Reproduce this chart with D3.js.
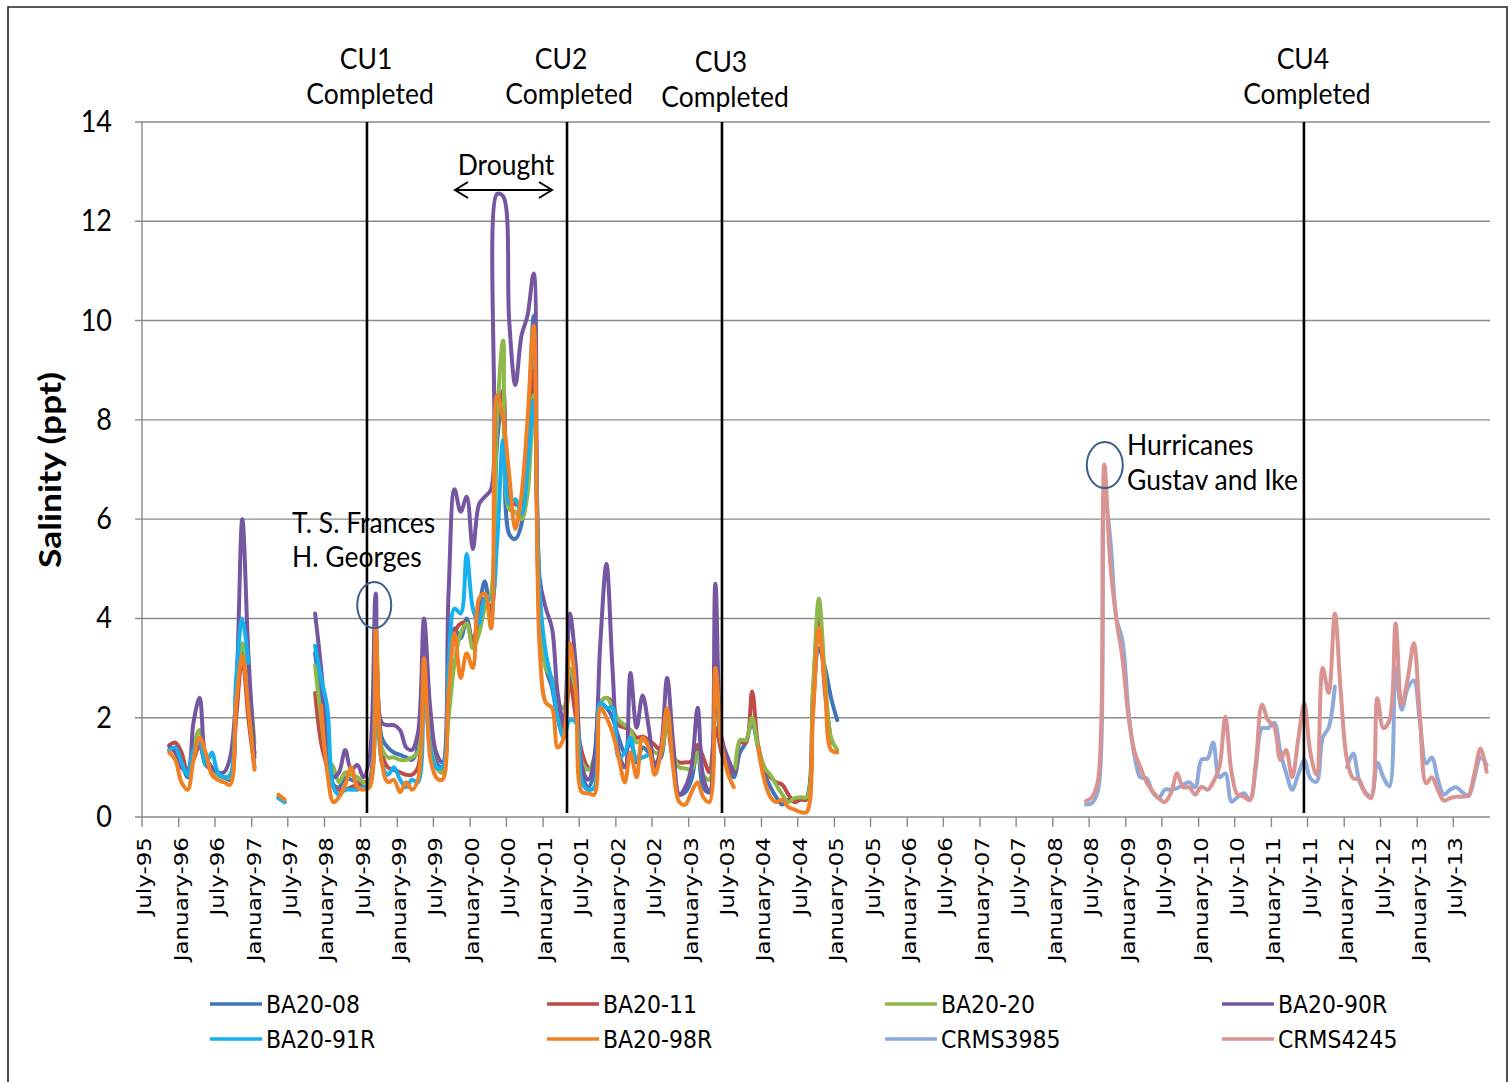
<!DOCTYPE html>
<html><head><meta charset="utf-8">
<script src="https://cdn.jsdelivr.net/npm/d3@7"></script>
<style>body{margin:0;background:#fff}svg{display:block}</style>
</head><body><svg id="c" width="1510" height="1082"></svg>
<script>
// ---------- DATA ----------
// Monthly samples (plotted mid-month). BA stations: Nov-1995 .. Jan-2005; CRMS stations: Jun-2008 .. Dec-2013
const baPeriod = ["1995-11", "2005-01"];
const crmsPeriod = ["2008-06", "2013-12"];
const seriesNames = ["BA20-08","BA20-11","BA20-20","BA20-90R","BA20-91R","BA20-98R","CRMS3985","CRMS4245"];

const ba2008 = [1.35,1.4,1.1,0.8,1.2,1.45,1.1,1.0,0.85,0.8,0.75,2.2,3.3,2.2,1.3,
 null,null,null,0.38,0.3,null,null,null,null,
 3.3,2.3,1.3,0.65,0.6,0.8,0.75,0.7,0.6,0.7,3.6,1.6,1.4,1.3,1.25,1.2,1.15,1.4,3.5,1.6,1.1,1.0,
 2.5,3.8,3.6,4.0,3.5,4.2,4.75,4.0,7.5,8.5,5.7,5.6,5.9,7.5,10.1,4.0,3.0,2.6,2.0,1.6,
 2.9,2.2,0.9,0.6,0.9,2.3,2.2,2.0,1.6,1.3,1.5,1.1,1.4,1.3,1.1,1.2,2.1,1.1,0.45,0.5,
 0.75,1.4,0.6,0.5,3.2,1.3,1.0,0.8,1.3,1.5,1.9,1.4,0.9,0.6,0.4,0.25,0.35,0.32,0.35,0.4,2.2,3.4,3.0,2.4,1.95];
const ba2011 = [1.45,1.5,1.3,0.9,1.15,1.45,1.05,0.95,0.85,0.8,0.8,2.0,3.2,2.0,1.0,
 null,null,null,null,null,null,null,null,null,
 2.5,1.5,1.0,0.6,0.55,0.55,0.6,0.65,0.7,0.75,3.3,1.3,1.0,0.95,0.9,0.85,0.85,1.0,3.0,1.5,1.0,0.9,
 2.5,3.7,3.9,3.9,3.5,4.0,4.4,4.2,8.0,8.6,6.4,6.3,6.3,7.5,9.0,4.2,3.2,2.7,2.2,1.8,
 2.7,2.0,1.3,1.0,1.0,2.3,2.4,2.3,1.85,1.8,1.75,1.6,1.62,1.55,1.45,1.35,2.0,1.2,1.1,1.1,
 1.12,1.45,1.2,0.9,1.8,1.3,1.0,0.9,1.5,1.5,2.53,1.45,1.0,0.8,0.7,0.65,0.45,0.3,0.35,0.35,2.5,4.0,2.5,1.5,null];
const ba2020 = [1.35,1.35,1.0,0.9,1.45,1.75,1.2,1.0,0.85,0.8,0.8,2.5,3.5,2.8,1.5,
 null,null,null,null,null,null,null,null,null,
 3.05,2.0,1.2,1.0,0.7,0.9,0.85,0.8,0.7,0.7,3.0,1.4,1.2,1.2,1.15,1.15,1.2,1.3,2.8,1.5,1.0,0.9,
 2.0,3.1,3.7,3.9,3.4,3.7,4.2,4.5,8.0,9.6,6.2,6.15,6.0,6.5,8.5,4.5,3.0,2.8,2.3,2.2,
 3.0,2.5,1.1,0.95,1.2,2.3,2.4,2.2,1.95,1.85,1.75,1.5,1.55,1.45,1.3,1.3,2.0,1.3,1.0,0.98,
 0.95,1.3,0.85,0.75,3.3,1.5,1.2,0.95,1.55,1.55,2.0,1.4,1.0,0.85,0.65,0.45,0.3,0.38,0.4,0.4,2.5,4.4,2.8,1.6,1.35];
const ba2090R = [1.42,1.3,1.0,0.95,1.9,2.4,1.2,1.0,0.9,0.9,1.2,2.5,6.0,3.3,1.2,
 null,null,null,null,null,null,null,null,null,
 4.1,3.0,1.6,0.8,0.9,1.35,0.95,1.05,0.8,1.2,4.5,1.9,1.85,1.85,1.75,1.4,1.35,1.7,4.0,2.2,1.3,1.1,
 4.5,6.6,6.15,6.45,5.4,6.3,6.45,6.6,12.55,12.5,10.0,8.7,9.7,10.1,10.95,4.8,4.2,3.8,2.5,1.9,
 4.1,3.0,1.0,0.75,1.2,3.5,5.1,3.0,1.3,1.0,2.9,1.8,2.45,1.8,1.0,1.4,2.8,1.5,0.45,0.6,
 1.0,2.2,0.8,0.5,4.7,1.6,1.2,0.9,null,null,null,null,null,null,null,null,null,null,null,null,null,null,null,null,null];
const ba2091R = [1.35,1.4,1.1,0.85,1.35,1.5,1.05,1.3,0.9,0.8,0.85,2.8,4.0,3.1,null,
 null,null,null,0.4,0.3,null,null,null,null,
 3.45,2.8,2.2,0.6,0.45,0.55,0.55,0.55,0.6,0.65,3.0,1.1,0.85,1.0,0.75,0.6,0.75,0.7,2.8,1.4,1.0,1.0,
 3.0,4.2,4.1,5.3,4.2,3.9,4.4,4.4,5.5,7.6,6.3,6.4,6.1,7.0,8.4,4.5,3.3,2.7,2.0,1.6,
 1.95,1.9,0.7,0.55,0.6,2.3,2.2,2.2,1.2,1.3,1.6,1.15,1.2,1.25,null,null,null,null,null,null,
 null,null,null,null,null,null,null,null,null,null,null,null,null,null,null,null,null,null,null,null,null,null,null,null,null];
const ba2098R = [1.3,1.15,0.7,0.55,1.15,1.6,1.3,0.85,0.75,0.7,0.65,2.3,3.25,2.2,0.95,
 null,null,null,0.45,0.35,null,null,null,null,
 null,2.25,0.9,0.3,0.4,0.65,1.0,0.6,0.55,0.6,3.8,1.1,0.7,0.75,0.5,0.7,0.55,0.75,3.2,1.2,0.8,0.75,
 2.5,3.7,2.8,3.3,3.0,4.4,4.5,3.8,8.5,8.0,6.9,5.8,6.5,8.0,9.9,3.4,2.3,2.2,1.4,1.6,
 3.5,2.5,0.5,0.48,0.45,2.2,2.0,1.7,1.2,0.7,1.3,0.8,1.6,1.4,0.85,1.3,2.2,1.0,0.3,0.25,
 0.5,0.7,0.4,0.3,3.0,1.5,0.9,0.6,null,null,null,1.4,0.75,0.4,0.3,0.35,0.2,0.15,0.1,0.1,2.0,3.8,2.6,1.35,1.3];
const crms3985 = [0.25,0.28,0.55,6.5,5.6,4.0,3.55,2.1,1.2,0.8,
 0.78,0.5,0.38,0.55,0.55,0.58,0.65,0.7,0.6,1.15,
 1.18,1.5,0.8,0.88,0.31,0.4,0.48,0.35,1.0,1.79,
 1.79,1.9,1.3,0.9,0.55,0.85,1.15,0.78,0.71,1.6,
 1.8,2.63,null,1.0,1.28,0.75,0.5,0.42,1.1,0.8,
 0.62,3.0,2.16,2.6,2.75,1.9,1.08,1.2,0.75,0.45,
 0.55,0.6,0.5,0.42,0.8,1.2,1.05];
const crms4245 = [0.32,0.4,0.75,7.1,5.1,3.97,3.2,2.0,1.3,1.0,
 0.7,0.52,0.38,0.3,0.48,0.88,0.6,0.6,0.45,0.61,
 0.55,0.7,1.0,2.02,0.9,0.45,0.41,0.34,1.1,2.26,
 1.95,1.82,1.15,1.35,0.8,1.55,2.29,1.3,0.85,3.0,
 2.5,4.1,2.5,1.15,0.78,0.75,0.48,0.38,2.39,1.79,
 1.95,3.9,2.26,2.8,3.5,2.0,0.68,0.8,0.54,0.33,
 0.38,0.41,0.41,0.44,0.88,1.38,0.91];

const yTicks = [0,2,4,6,8,10,12,14];
const xTickLabels = ["July-95","January-96","July-96","January-97","July-97","January-98","July-98","January-99","July-99","January-00","July-00","January-01","July-01","January-02","July-02","January-03","July-03","January-04","July-04","January-05","July-05","January-06","July-06","January-07","July-07","January-08","July-08","January-09","July-09","January-10","July-10","January-11","July-11","January-12","July-12","January-13","July-13"];
const cuNames = ["CU1","CU2","CU3","CU4"];
const cuDates = ["1998-08-02","2001-05-01","2003-06-17","2011-06-13"];

// ---------- SETUP ----------
const svg = d3.select("#c");
const parseM = d3.utcParse("%Y-%m"), parseD = d3.utcParse("%Y-%m-%d");
const x = d3.scaleUtc().domain([parseM("1995-07"), parseM("2014-01")]).range([142, 1490]);
const y = d3.scaleLinear().domain([0, 14]).range([817, 122]);
const colors = ["#4174B8","#BE4B48","#8DB84A","#7556A1","#16B0EE","#EF8124","#8EAADB","#D99391"];

function months(p){ return d3.utcMonth.range(parseM(p[0]), d3.utcMonth.offset(parseM(p[1]),1)); }
const baM = months(baPeriod), crM = months(crmsPeriod);
const mid = d => d3.utcDay.offset(d, 14);
const allSeries = [ba2008, ba2011, ba2020, ba2090R, ba2091R, ba2098R, crms3985, crms4245].map((vals, i) => {
  const ms = i < 6 ? baM : crM;
  return { name: seriesNames[i], color: colors[i], pts: vals.map((v, j) => ({ d: mid(ms[j]), v })) };
});

function T(parent, px, py, str, o) {
  o = o || {};
  const S = o.stretch || 1.12;
  const g = parent.append("g").attr("transform", `translate(${px},${py}) scale(1,${S})` + (o.rotate ? ` rotate(${o.rotate})` : ""));
  return g.append("text").attr("text-anchor", o.anchor || "start")
    .style("font-family", o.family || "Lato").style("font-size", (o.size || 26.5) + "px")
    .style("font-weight", o.weight || "normal").attr("fill", o.fill || "#000").text(str);
}

// border
svg.append("path").attr("d", "M8,1082 L8,7 L1507,7 L1507,1082").attr("fill", "none").attr("stroke", "#222").attr("stroke-width", 1.6);

// gridlines + y axis
const grid = svg.append("g");
yTicks.forEach(t => {
  grid.append("line").attr("x1", 135).attr("x2", x.range()[1]).attr("y1", y(t)).attr("y2", y(t))
    .attr("stroke", "#8a8a8a").attr("stroke-width", 1.4);
  T(svg, 112, y(t) + 10, String(t), { anchor: "end", size: 27, stretch: 1.15 });
});
grid.append("line").attr("x1", 142).attr("x2", 142).attr("y1", y(14)).attr("y2", y(0)).attr("stroke", "#8a8a8a").attr("stroke-width", 1.4);

// x ticks
const tickDates = d3.utcMonth.range(parseM("1995-07"), parseM("2014-01"), 6);
tickDates.forEach((d, i) => {
  svg.append("line").attr("x1", x(d)).attr("x2", x(d)).attr("y1", y(0)).attr("y2", y(0) + 10).attr("stroke", "#8a8a8a").attr("stroke-width", 1.4);
  if (xTickLabels[i]) T(svg, x(d) + 9, 837, xTickLabels[i], { rotate: -90, anchor: "end", family: "DejaVu Sans", size: 19.5, stretch: 1.18 });
});

// series
const line = d3.line().defined(p => p.v != null).x(p => x(p.d)).y(p => y(p.v)).curve(d3.curveCatmullRom.alpha(0.5));
allSeries.forEach(s => {
  svg.append("path").attr("d", line(s.pts)).attr("fill", "none").attr("stroke", s.color)
    .attr("stroke-width", 4).attr("stroke-linejoin", "round").attr("stroke-linecap", "round");
});

// CU lines and labels
cuDates.forEach((ds, i) => {
  const cx = x(parseD(ds));
  svg.append("line").attr("x1", cx).attr("x2", cx).attr("y1", y(14)).attr("y2", 813).attr("stroke", "#000").attr("stroke-width", 2.6);
  const dy = i === 2 ? 3 : 0;
  T(svg, cx - 1 + (i === 1 ? -5 : 0), 69 + dy, cuNames[i], { anchor: "middle" });
  T(svg, cx + 3 + (i === 1 ? -1 : 0), 104 + dy, "Completed", { anchor: "middle" });
});

// Drought annotation
T(svg, 506, 175, "Drought", { anchor: "middle" });
const ar = svg.append("g").attr("stroke", "#000").attr("stroke-width", 2).attr("fill", "none");
ar.append("line").attr("x1", 455).attr("x2", 552).attr("y1", 190).attr("y2", 190);
ar.append("path").attr("d", "M468,182 L455,190 L468,198");
ar.append("path").attr("d", "M539,182 L552,190 L539,198");

// T.S. Frances / H. Georges
T(svg, 292, 533, "T. S. Frances");
T(svg, 292, 567, "H. Georges");
const ell = svg.append("g").attr("fill", "none").attr("stroke", "#3C5F8E").attr("stroke-width", 2);
ell.append("ellipse").attr("cx", x(mid(parseM("1998-09")))-1.5).attr("cy", y(4.27)).attr("rx", 17).attr("ry", 23);

// Hurricanes
T(svg, 1127, 455, "Hurricanes");
T(svg, 1127, 490, "Gustav and Ike");
ell.append("ellipse").attr("cx", x(mid(parseM("2008-09")))+0.5).attr("cy", y(7.09)).attr("rx", 18).attr("ry", 23);

// legend
const lgX = [210, 547, 885, 1222], lgY = [1004, 1039];
allSeries.forEach((s, i) => {
  const lx = lgX[i % 4], ly = lgY[Math.floor(i / 4)];
  svg.append("line").attr("x1", lx).attr("x2", lx + 52).attr("y1", ly).attr("y2", ly).attr("stroke", s.color).attr("stroke-width", 3.6);
  T(svg, lx + 56, ly + 9, s.name, { family: "DejaVu Sans", size: 22, stretch: 1.15 });
});

// y title
T(svg, 61, 470, "Salinity (ppt)", { rotate: -90, anchor: "middle", weight: "bold", size: 30, stretch: 1.18 });
</script></body></html>
